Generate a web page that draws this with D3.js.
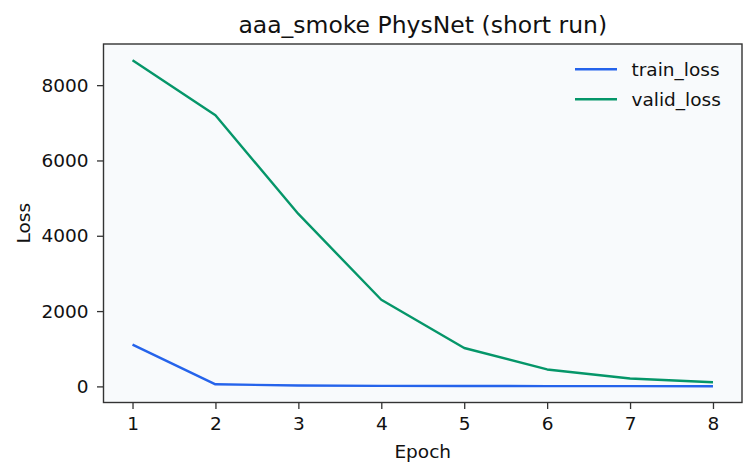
<!DOCTYPE html>
<html>
<head>
<meta charset="utf-8">
<script src="https://cdn.jsdelivr.net/npm/d3@7"></script>
<style>
	body { margin: 0; background: #ffffff; }
	svg { display: block; font-family: 'DejaVu Sans', sans-serif; }
</style>
</head>
<body>
<svg id="chart" width="756" height="476"></svg>
<script>
// values
const epochs = [1, 2, 3, 4, 5, 6, 7, 8];
const trainLoss = [1110, 55, 25, 15, 10, 8, 6, 5];
const validLoss = [8660, 7200, 4580, 2300, 1020, 450, 210, 110];
const yTicks = [0, 2000, 4000, 6000, 8000];
const seriesNames = ['train_loss', 'valid_loss'];
const seriesColors = ['#2563eb', '#059669'];

const margin = {left: 103.5, right: 14, top: 44, bottom: 73.5};
const width = 756, height = 476;
const plotW = width - margin.left - margin.right;
const plotH = height - margin.top - margin.bottom;
const axisColor = '#333333';
const fontSz = 18.5;

let svg = d3.select('#chart');
let g = svg.append('g').attr('transform', `translate(${margin.left},${margin.top})`);

// matplotlib-like 5% margins
let xPad = (d3.max(epochs) - d3.min(epochs)) * 0.05;
let x = d3.scaleLinear()
	.domain([d3.min(epochs) - xPad, d3.max(epochs) + xPad])
	.range([0, plotW]);
let allVals = trainLoss.concat(validLoss);
let yMin = d3.min(allVals), yMax = d3.max(allVals);
let yPad = (yMax - yMin) * 0.05;
let y = d3.scaleLinear()
	.domain([yMin - yPad, yMax + yPad])
	.range([plotH, 0]);

g.append('rect')
	.attr('width', plotW).attr('height', plotH)
	.attr('fill', '#f8fafc');

let series = [trainLoss, validLoss];
let line = d3.line()
	.x((d, i) => x(epochs[i]))
	.y(d => y(d));
series.forEach((s, k) => {
	g.append('path')
		.datum(s)
		.attr('fill', 'none')
		.attr('stroke', seriesColors[k])
		.attr('stroke-width', 2.4)
		.attr('stroke-linejoin', 'round')
		.attr('d', line);
});

// axes
let xAxis = g.append('g')
	.attr('transform', `translate(0,${plotH})`)
	.call(d3.axisBottom(x).tickValues(epochs).tickFormat(d3.format('d')).tickSize(6.5).tickPadding(8));
let yAxis = g.append('g')
	.call(d3.axisLeft(y).tickValues(yTicks).tickFormat(d3.format('d')).tickSize(6.5).tickPadding(8.5));
[xAxis, yAxis].forEach(a => {
	a.select('.domain').remove();
	a.selectAll('line').attr('stroke', axisColor).attr('stroke-width', 1.3);
	a.selectAll('text').attr('fill', '#111').attr('font-size', fontSz).attr('font-family', 'DejaVu Sans');
});

// spines
g.append('rect')
	.attr('width', plotW).attr('height', plotH)
	.attr('fill', 'none')
	.attr('stroke', axisColor)
	.attr('stroke-width', 1.4);

// labels
svg.append('text')
	.attr('x', margin.left + plotW / 2).attr('y', 33)
	.attr('text-anchor', 'middle')
	.attr('font-size', 23.5).attr('fill', '#111')
	.text('aaa_smoke PhysNet (short run)');
svg.append('text')
	.attr('x', margin.left + plotW / 2).attr('y', 458)
	.attr('text-anchor', 'middle')
	.attr('font-size', fontSz).attr('fill', '#111')
	.text('Epoch');
svg.append('text')
	.attr('transform', `translate(30,${margin.top + plotH / 2}) rotate(-90)`)
	.attr('text-anchor', 'middle')
	.attr('font-size', fontSz).attr('fill', '#111')
	.text('Loss');

// legend
let legend = g.append('g').attr('transform', `translate(${575 - margin.left},${69.3 - margin.top})`);
seriesNames.forEach((name, i) => {
	let ly = i * 30;
	legend.append('line')
		.attr('x1', 0).attr('x2', 42)
		.attr('y1', ly).attr('y2', ly)
		.attr('stroke', seriesColors[i]).attr('stroke-width', 2.4);
	legend.append('text')
		.attr('x', 56.5).attr('y', ly)
		.attr('dominant-baseline', 'central')
		.attr('font-size', fontSz).attr('fill', '#111')
		.text(name);
});
</script>
</body>
</html>
